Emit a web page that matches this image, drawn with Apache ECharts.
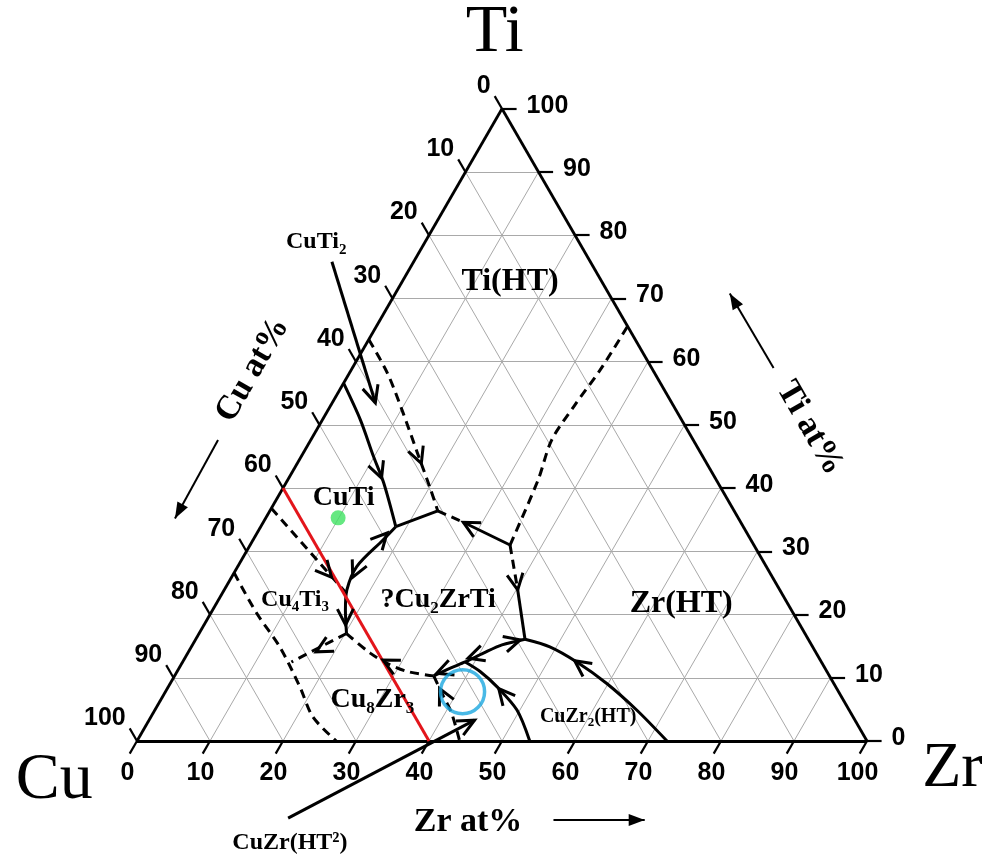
<!DOCTYPE html>
<html>
<head>
<meta charset="utf-8">
<title>Cu-Zr-Ti liquidus projection</title>
<script src="https://cdn.jsdelivr.net/npm/echarts@6/dist/echarts.min.js"></script>
<style>
  html, body { margin: 0; padding: 0; background: #fff; }
  #chart { width: 984px; height: 859px; }
</style>
</head>
<body>
<div id="chart"></div>
<script>
// All compositions are [Zr at%, Ti at%]; Cu at% = 100 - Zr - Ti.
const tickValues = [0, 10, 20, 30, 40, 50, 60, 70, 80, 90, 100];
const gridValues = [10, 20, 30, 40, 50, 60, 70, 80, 90];

// univariant valleys (solid = measured, dashed = estimated)
const tiHtCuTiBoundary   = [[0, 63.5], [5.2, 58.2], [10.5, 51.9], [15.6, 45.6], [20.0, 40.2], [23.0, 36.4]];
const cuTi2Boundary      = [[0, 56.6], [5.2, 50.8], [9.9, 45.0], [13.4, 40.8], [18.5, 33.9]];
const cuTiLink           = [[18.5, 33.9], [23.0, 36.4]];
const ternaryTopDashed   = [[23.0, 36.4], [27.4, 34.6]];
const ternaryTopSolid    = [[27.4, 34.6], [35.6, 31.0]];
const tiZrHtBoundary     = [[35.6, 31.0], [34.3, 41.3], [33.0, 47.6], [33.4, 53.1], [34.1, 58.7], [34.4, 65.6]];
const zrHtDashed         = [[35.6, 31.0], [40.2, 23.9]];
const zrHtSolid          = [[40.2, 23.9], [45.1, 16.1]];
const ternaryLowerArc    = [[45.1, 16.1], [42.4, 15.2], [40.5, 13.9], [38.7, 12.5], [37.1, 11.5], [35.5, 10.3]];
const cu8Zr3Top          = [[35.5, 10.3], [31.5, 11.0], [28.1, 12.3], [25.0, 13.9], [20.2, 17.0]];
const cu4Ti3Cu8Zr3Link   = [[20.2, 17.0], [14.9, 12.5]];
const cu4Ti3Cu8Zr3       = [[0, 26.6], [6.3, 20.2], [12.1, 14.9], [18.0, 8.6], [22.2, 3.8], [27.3, 0]];
const cuTiCu4Ti3         = [[0, 36.8], [16.7, 23.6]];
const cuTiTernaryValley  = [[18.5, 33.9], [17.8, 31.8], [16.3, 27.6], [16.8, 23.9], [18.2, 20.7], [20.2, 17.0]];
const cuZrHt2Left        = [[35.5, 10.3], [38.5, 7.0], [40.9, 4.4], [44.2, 0]];
const cuZr2Left          = [[38.7, 12.5], [41.5, 11.0], [45.0, 8.6], [49.6, 4.9], [53.8, 0]];
const cuZr2Right         = [[45.1, 16.1], [49.1, 14.9], [54.0, 12.5], [59.8, 9.1], [66.0, 4.9], [72.6, 0]];
const cu60Section        = [[0, 40], [40, 0]];

// arrows on the valleys: [from, tip]
const valleyArrows = [
  [[15.6, 45.6], [17.0, 43.9]],
  [[9.9, 45.0], [12.7, 41.6]],
  [[29.3, 33.7], [27.4, 34.6]],
  [[35.6, 31.0], [40.2, 23.9]],
  [[42.4, 15.2], [44.5, 16.0]],
  [[40.5, 13.9], [38.8, 13.1]],
  [[37.1, 11.5], [35.7, 10.7]],
  [[29.5, 11.8], [27.3, 12.8]],
  [[19.0, 15.5], [17.5, 14.1]],
  [[0, 36.8], [13.7, 25.9]],
  [[16.9, 29.8], [17.8, 32.9]],
  [[16.4, 28.0], [16.6, 25.9]],
  [[18.2, 20.7], [19.4, 18.35]],
  [[38.5, 7.0], [37.3, 8.3]],
  [[47.5, 6.6], [45.4, 8.3]],
  [[56.5, 11.0], [53.6, 12.7]]
];

// marked alloys
const cuTiAlloy = [9.9, 35.3];
const ringedAlloy = [40.7, 7.8];

// phase pointers and axis direction arrows: [from, tip]
const cuTi2Pointer = [[-11.2, 75.8], [5.9, 53.5]];
const cuZrHt2Pointer = [[26.8, -12.2], [44.6, 3.3]];
const axisArrows = [
  [[63.3, -12.5], [75.8, -12.5]],
  [[57.7, 59.0], [45.8, 70.8]],
  [[-12.7, 47.6], [-12.4, 35.2]]
];

// ---------------------------------------------------------------
const S3 = Math.sqrt(3) / 2;
function tern(p) { return [p[0] + p[1] / 2, p[1] * S3]; }

// plotting window in cartesian units (1 unit = 7.3 px)
const X_MIN = -18.767, X_MAX = 116.027, Y_MIN = -16.164, Y_MAX = 101.507;

const SERIF = '"Liberation Serif", "Times New Roman", serif';
const SANS = '"Liberation Sans", Arial, sans-serif';
const DASH = [9, 6];

function seg(a, b) { return { coords: [tern(a), tern(b)] }; }

const gridSegs = [];
gridValues.forEach(k => {
  gridSegs.push(seg([0, k], [100 - k, k]));      // constant Ti
  gridSegs.push(seg([k, 0], [k, 100 - k]));      // constant Zr
  gridSegs.push(seg([0, 100 - k], [100 - k, 0])); // constant Cu
});

const tickSegs = [];
tickValues.forEach(k => {
  tickSegs.push(seg([k, 0], [k, -2]));                 // Zr axis
  tickSegs.push(seg([100 - k, k], [102 - k, k]));       // Ti axis
  tickSegs.push(seg([0, 100 - k], [-2, 102 - k]));      // Cu axis
});

function curve(pts, dashed, color, width, smooth) {
  return {
    type: 'line', data: pts.map(tern), showSymbol: false, symbol: 'none',
    smooth: smooth || 0, silent: true, z: 4,
    lineStyle: { color: color || '#000', width: width || 3, type: dashed ? DASH : 'solid', cap: 'butt' }
  };
}

function arrowSeries(list, kind, len, half, width) {
  return {
    type: 'custom', coordinateSystem: 'cartesian2d', silent: true, z: 6,
    data: list.map(a => tern(a[0]).concat(tern(a[1]))),
    renderItem(params, api) {
      const f = api.coord([api.value(0), api.value(1)]);
      const p = api.coord([api.value(2), api.value(3)]);
      let dx = p[0] - f[0], dy = p[1] - f[1];
      const n = Math.hypot(dx, dy) || 1; dx /= n; dy /= n;
      const bx = p[0] - dx * len, by = p[1] - dy * len;
      const nx = -dy * half, ny = dx * half;
      if (kind === 'filled') {
        return { type: 'polygon', shape: { points: [p, [bx + nx, by + ny], [bx - nx, by - ny]] }, style: { fill: '#000' } };
      }
      return { type: 'polyline', shape: { points: [[bx + nx, by + ny], p, [bx - nx, by - ny]] },
               style: { stroke: '#000', lineWidth: width, fill: null, lineJoin: 'miter' } };
    }
  };
}

function shaft(pair, width) {
  return { type: 'lines', coordinateSystem: 'cartesian2d', silent: true, z: 5,
           data: [seg(pair[0], pair[1])], lineStyle: { color: '#000', width: width, opacity: 1 } };
}

// tick labels of the three composition axes
function tickLabelSeries(axis) {
  return {
    type: 'custom', coordinateSystem: 'cartesian2d', silent: true, z: 7,
    data: tickValues.map(k => {
      if (axis === 'zr') return tern([k, -2]);
      if (axis === 'ti') return tern([102 - k, k]);
      return tern([-2, 102 - k]);
    }),
    renderItem(params, api) {
      const e = api.coord([api.value(0), api.value(1)]);
      const txt = String(tickValues[params.dataIndex]);
      let x, y, align;
      if (axis === 'zr') { x = e[0] - 2.2; y = e[1] + 19; align = 'center'; }
      else if (axis === 'ti') { x = e[0] + 10; y = e[1] - 3; align = 'left'; }
      else { x = e[0] - 4; y = e[1] - 10; align = 'right'; }
      return { type: 'text', x: x, y: y,
               style: { text: txt, font: 'bold 25px ' + SANS, fill: '#000', align: align, verticalAlign: 'middle' } };
    }
  };
}

const richSub = {
  m: { fontFamily: SERIF, fontWeight: 'bold', fontSize: 28, lineHeight: 34 },
  s: { fontFamily: SERIF, fontWeight: 'bold', fontSize: 17, lineHeight: 17, verticalAlign: 'bottom' },
  m2: { fontFamily: SERIF, fontWeight: 'bold', fontSize: 24, lineHeight: 30 },
  s2: { fontFamily: SERIF, fontWeight: 'bold', fontSize: 15, lineHeight: 15, verticalAlign: 'bottom' },
  m3: { fontFamily: SERIF, fontWeight: 'bold', fontSize: 20, lineHeight: 25 },
  s3: { fontFamily: SERIF, fontWeight: 'bold', fontSize: 13, lineHeight: 13, verticalAlign: 'bottom' }
};

// text placed at ternary anchors
const annotations = [
  { text: 'Ti', at: [-7.0, 112.0], font: 'normal 68px ' + SERIF },
  { text: 'Cu', at: [-8.2, -6.3], font: 'normal 66px ' + SERIF },
  { text: 'Zr', at: [113.9, -4.4], font: 'normal 64px ' + SERIF },
  { text: 'Zr at%', at: [51.75, -12.8], font: 'bold 34px ' + SERIF },
  { text: 'Ti at%', at: [67.4, 49.5], font: 'bold 34px ' + SERIF, rot: -Math.PI / 3 },
  { text: 'Cu at%', at: [-13.5, 58.7], font: 'bold 34px ' + SERIF, rot: Math.PI / 3 },
  { text: 'Ti(HT)', at: [14.8, 72.6], font: 'bold 32px ' + SERIF },
  { text: 'Zr(HT)', at: [63.7, 21.7], font: 'bold 32px ' + SERIF },
  { text: '{m|?Cu}{s|2}{m|ZrTi}', at: [30.1, 22.3], rich: true },
  { text: '{m2|Cu}{s2|4}{m2|Ti}{s2|3}', at: [10.5, 22.3], rich: true },
  { text: '{m|Cu}{s|8}{m|Zr}{s|3}', at: [29.0, 6.5], rich: true },
  { text: '{m3|CuZr}{s3|2}{m3|(HT)}', at: [59.9, 3.8], rich: true },
  { text: 'CuTi', at: [9.1, 38.4], font: 'bold 28px ' + SERIF },
  { text: '{m2|CuTi}{s2|2}', at: [-14.9, 78.9], rich: true },
  { text: 'CuZr(HT²)', at: [29.0, -16.1], font: 'bold 24px ' + SERIF }
];

const textSeries = {
  type: 'custom', coordinateSystem: 'cartesian2d', silent: true, z: 8,
  data: annotations.map(a => tern(a.at)),
  renderItem(params, api) {
    const a = annotations[params.dataIndex];
    const c = api.coord([api.value(0), api.value(1)]);
    const style = { text: a.text, fill: '#000', align: 'center', verticalAlign: 'middle' };
    if (a.rich) { style.rich = richSub; style.font = 'bold 28px ' + SERIF; }
    else style.font = a.font;
    return { type: 'text', x: c[0], y: c[1], rotation: a.rot || 0, style: style };
  }
};

const option = {
  animation: false,
  backgroundColor: '#fff',
  grid: { left: 0, right: 0, top: 0, bottom: 0 },
  xAxis: { type: 'value', min: X_MIN, max: X_MAX, show: false },
  yAxis: { type: 'value', min: Y_MIN, max: Y_MAX, show: false },
  series: [
    { type: 'lines', coordinateSystem: 'cartesian2d', silent: true, z: 1, data: gridSegs,
      lineStyle: { color: '#a9a9a9', width: 1, opacity: 1 } },
    { type: 'lines', coordinateSystem: 'cartesian2d', silent: true, z: 3,
      data: [seg([0, 0], [100, 0]), seg([100, 0], [0, 100]), seg([0, 100], [0, 0])],
      lineStyle: { color: '#000', width: 2.8, opacity: 1 } },
    { type: 'lines', coordinateSystem: 'cartesian2d', silent: true, z: 3, data: tickSegs,
      lineStyle: { color: '#000', width: 2.2, opacity: 1 } },

    curve(tiHtCuTiBoundary, true, '#000', 3, 0.3),
    curve(cuTi2Boundary, false, '#000', 3, 0.3),
    curve(cuTiLink, false),
    curve(ternaryTopDashed, true),
    curve(ternaryTopSolid, false),
    curve(tiZrHtBoundary, true, '#000', 3, 0.3),
    curve(zrHtDashed, true),
    curve(zrHtSolid, false),
    curve(ternaryLowerArc, false, '#000', 3, 0.3),
    curve(cu8Zr3Top, true, '#000', 3, 0.3),
    curve(cu4Ti3Cu8Zr3Link, true),
    curve(cu4Ti3Cu8Zr3, true, '#000', 3, 0.3),
    curve(cuTiCu4Ti3, true),
    curve(cuTiTernaryValley, false, '#000', 3, 0.3),
    curve(cuZrHt2Left, true, '#000', 3, 0.3),
    curve(cuZr2Left, false, '#000', 3, 0.3),
    curve(cuZr2Right, false, '#000', 3, 0.3),
    curve(cu60Section, false, '#e3151b', 3),

    arrowSeries(valleyArrows, 'open', 16, 8, 3),
    shaft(cuTi2Pointer, 3),
    arrowSeries([cuTi2Pointer], 'open', 17, 8, 3),
    shaft(cuZrHt2Pointer, 3),
    arrowSeries([cuZrHt2Pointer], 'open', 17, 8, 3),
    shaft(axisArrows[0], 2), shaft(axisArrows[1], 2), shaft(axisArrows[2], 2),
    arrowSeries(axisArrows, 'filled', 16, 6, 1),

    { type: 'scatter', data: [tern(cuTiAlloy)], symbol: 'circle', symbolSize: 15, silent: true, z: 6,
      itemStyle: { color: '#3fe262' } },
    { type: 'scatter', data: [tern(ringedAlloy)], symbol: 'circle', symbolSize: 44, silent: true, z: 6,
      itemStyle: { color: 'rgba(0,0,0,0)', borderColor: '#1ba8e0', borderWidth: 3.5 } },

    tickLabelSeries('zr'),
    tickLabelSeries('ti'),
    tickLabelSeries('cu'),
    textSeries
  ]
};

const chart = echarts.init(document.getElementById('chart'), null, { renderer: 'canvas' });
chart.setOption(option);
</script>
</body>
</html>
